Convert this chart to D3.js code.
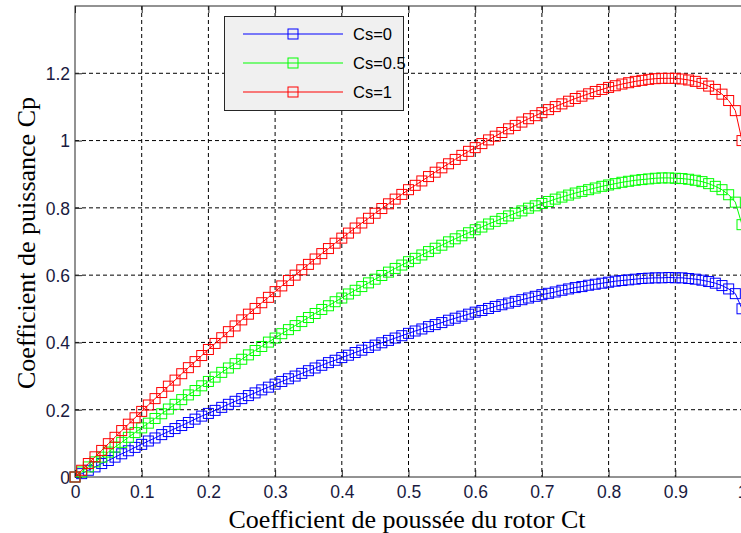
<!DOCTYPE html>
<html>
<head>
    <meta charset="utf-8">
    <title>Cp vs Ct</title>
    <script src="https://cdn.jsdelivr.net/npm/d3@7"></script>
    <style>
        body { margin: 0; background: #fff; }
        .tick-lbl { font-family: "Liberation Sans Narrow", "Arial Narrow", Arial, sans-serif; font-size: 17.5px; fill: #1a1a40; }
        .title { font-family: "Liberation Serif", "Times New Roman", serif; font-size: 26px; fill: #000; }
        .leg { font-family: Arial, "Liberation Sans", sans-serif; font-size: 16.5px; fill: #000; }
    </style>
</head>
<body>
<div id="chart"></div>
<script>
    // thrust coefficient (x values)
    var ct = [0, 0.01, 0.02, 0.03, 0.04, 0.05, 0.06, 0.07, 0.08, 0.09,
        0.10, 0.11, 0.12, 0.13, 0.14, 0.15, 0.16, 0.17, 0.18, 0.19,
        0.20, 0.21, 0.22, 0.23, 0.24, 0.25, 0.26, 0.27, 0.28, 0.29,
        0.30, 0.31, 0.32, 0.33, 0.34, 0.35, 0.36, 0.37, 0.38, 0.39,
        0.40, 0.41, 0.42, 0.43, 0.44, 0.45, 0.46, 0.47, 0.48, 0.49,
        0.50, 0.51, 0.52, 0.53, 0.54, 0.55, 0.56, 0.57, 0.58, 0.59,
        0.60, 0.61, 0.62, 0.63, 0.64, 0.65, 0.66, 0.67, 0.68, 0.69,
        0.70, 0.71, 0.72, 0.73, 0.74, 0.75, 0.76, 0.77, 0.78, 0.79,
        0.80, 0.81, 0.82, 0.83, 0.84, 0.85, 0.86, 0.87, 0.88, 0.89,
        0.90, 0.91, 0.92, 0.93, 0.94, 0.95, 0.96, 0.97, 0.98, 0.99,
        1.00];

    // power coefficient, Cs = 0
    var cpCs0 = [0, 0.010, 0.020, 0.030, 0.040, 0.049, 0.059, 0.069, 0.078, 0.088,
        0.097, 0.107, 0.116, 0.126, 0.135, 0.144, 0.153, 0.162, 0.172, 0.181,
        0.189, 0.198, 0.207, 0.216, 0.225, 0.233, 0.242, 0.250, 0.259, 0.267,
        0.276, 0.284, 0.292, 0.300, 0.308, 0.316, 0.324, 0.332, 0.340, 0.347,
        0.355, 0.362, 0.370, 0.377, 0.385, 0.392, 0.399, 0.406, 0.413, 0.420,
        0.427, 0.434, 0.440, 0.447, 0.453, 0.459, 0.466, 0.472, 0.478, 0.484,
        0.490, 0.495, 0.501, 0.507, 0.512, 0.517, 0.522, 0.527, 0.532, 0.537,
        0.542, 0.546, 0.550, 0.555, 0.559, 0.563, 0.566, 0.570, 0.573, 0.576,
        0.579, 0.582, 0.584, 0.586, 0.588, 0.590, 0.591, 0.592, 0.592, 0.593,
        0.592, 0.592, 0.590, 0.588, 0.585, 0.581, 0.576, 0.569, 0.559, 0.545,
        0.500];

    // Cs = 0.5
    var cpCs05 = [0, 0.015, 0.030, 0.045, 0.059, 0.074, 0.089, 0.103, 0.118, 0.132,
        0.146, 0.160, 0.174, 0.188, 0.202, 0.216, 0.230, 0.244, 0.257, 0.271,
        0.284, 0.297, 0.311, 0.324, 0.337, 0.350, 0.363, 0.376, 0.388, 0.401,
        0.413, 0.426, 0.438, 0.450, 0.462, 0.474, 0.486, 0.498, 0.509, 0.521,
        0.532, 0.544, 0.555, 0.566, 0.577, 0.588, 0.599, 0.609, 0.620, 0.630,
        0.640, 0.650, 0.660, 0.670, 0.680, 0.689, 0.699, 0.708, 0.717, 0.726,
        0.735, 0.743, 0.752, 0.760, 0.768, 0.776, 0.784, 0.791, 0.799, 0.806,
        0.813, 0.819, 0.826, 0.832, 0.838, 0.844, 0.849, 0.854, 0.859, 0.864,
        0.868, 0.872, 0.876, 0.879, 0.882, 0.884, 0.886, 0.888, 0.889, 0.889,
        0.888, 0.887, 0.885, 0.882, 0.878, 0.872, 0.864, 0.854, 0.839, 0.817,
        0.750];

    // Cs = 1
    var cpCs1 = [0, 0.020, 0.040, 0.060, 0.079, 0.099, 0.118, 0.138, 0.157, 0.176,
        0.195, 0.214, 0.233, 0.251, 0.270, 0.288, 0.307, 0.325, 0.343, 0.361,
        0.379, 0.397, 0.414, 0.432, 0.449, 0.467, 0.484, 0.501, 0.518, 0.534,
        0.551, 0.568, 0.584, 0.600, 0.616, 0.632, 0.648, 0.664, 0.679, 0.695,
        0.710, 0.725, 0.740, 0.755, 0.769, 0.784, 0.798, 0.812, 0.826, 0.840,
        0.854, 0.867, 0.880, 0.893, 0.906, 0.919, 0.931, 0.944, 0.956, 0.968,
        0.979, 0.991, 1.002, 1.013, 1.024, 1.035, 1.045, 1.055, 1.065, 1.074,
        1.083, 1.092, 1.101, 1.109, 1.117, 1.125, 1.132, 1.139, 1.146, 1.152,
        1.158, 1.163, 1.168, 1.172, 1.176, 1.179, 1.182, 1.184, 1.185, 1.185,
        1.185, 1.183, 1.180, 1.176, 1.170, 1.162, 1.152, 1.138, 1.119, 1.089,
        1.000];

    var seriesNames = ["Cs=0", "Cs=0.5", "Cs=1"];
    var seriesColors = ["#0000ff", "#00ff00", "#ff0000"];
    var xTicks = [0, 0.1, 0.2, 0.3, 0.4, 0.5, 0.6, 0.7, 0.8, 0.9, 1];
    var xTickLabels = ["0", "0.1", "0.2", "0.3", "0.4", "0.5", "0.6", "0.7", "0.8", "0.9", "1"];
    var yTicks = [0, 0.2, 0.4, 0.6, 0.8, 1, 1.2];
    var yTickLabels = ["0", "0.2", "0.4", "0.6", "0.8", "1", "1.2"];

    var W = 741, H = 533;
    var margin = {top: 6, left: 75, bottom: 56};
    var plotRight = 742; // right border falls just outside the picture
    var plotBottom = H - margin.bottom;

    var x = d3.scaleLinear().domain([0, 1]).range([margin.left, plotRight]);
    var y = d3.scaleLinear().domain([0, 1.4]).range([plotBottom, margin.top]);

    var svg = d3.select("#chart").append("svg")
        .attr("width", W)
        .attr("height", H);

    // grid
    svg.append("g")
        .selectAll("line")
        .data(xTicks.slice(1, -1))
        .enter().append("line")
        .attr("x1", function(d) { return x(d); })
        .attr("x2", function(d) { return x(d); })
        .attr("y1", margin.top)
        .attr("y2", plotBottom)
        .attr("stroke", "#000")
        .attr("stroke-dasharray", "4,3");

    svg.append("g")
        .selectAll("line")
        .data(yTicks.slice(1))
        .enter().append("line")
        .attr("x1", margin.left)
        .attr("x2", plotRight)
        .attr("y1", function(d) { return y(d); })
        .attr("y2", function(d) { return y(d); })
        .attr("stroke", "#000")
        .attr("stroke-dasharray", "4,3");

    // axes (ticks inward, MATLAB style)
    var xAxisB = d3.axisBottom(x).tickValues(xTicks).tickSizeInner(-7).tickSizeOuter(0)
        .tickFormat(function(d, i) { return xTickLabels[i]; });
    var gx = svg.append("g")
        .attr("transform", "translate(0," + plotBottom + ")")
        .call(xAxisB);
    gx.selectAll("text").attr("class", "tick-lbl").attr("y", 9).attr("dy", "0.71em");

    var xAxisT = d3.axisTop(x).tickValues(xTicks).tickSizeInner(-7).tickSizeOuter(0).tickFormat("");
    svg.append("g")
        .attr("transform", "translate(0," + margin.top + ")")
        .call(xAxisT);

    var yAxisL = d3.axisLeft(y).tickValues(yTicks).tickSizeInner(-7).tickSizeOuter(0)
        .tickFormat(function(d, i) { return yTickLabels[i]; });
    var gy = svg.append("g")
        .attr("transform", "translate(" + margin.left + ",0)")
        .call(yAxisL);
    gy.selectAll("text").attr("class", "tick-lbl").attr("x", -5).attr("dy", "0.36em");

    svg.selectAll(".domain").remove();
    svg.selectAll(".tick line").attr("stroke", "#262626");

    // box
    svg.append("rect")
        .attr("x", margin.left)
        .attr("y", margin.top)
        .attr("width", plotRight - margin.left)
        .attr("height", plotBottom - margin.top)
        .attr("fill", "none")
        .attr("stroke", "#262626")
        .attr("stroke-width", 1);

    // series
    var allSeries = [cpCs0, cpCs05, cpCs1];
    var line = d3.line()
        .x(function(d) { return x(d[0]); })
        .y(function(d) { return y(d[1]); });

    allSeries.forEach(function(vals, si) {
        var pts = ct.map(function(c, i) { return [c, vals[i]]; });
        svg.append("path")
            .datum(pts)
            .attr("fill", "none")
            .attr("stroke", seriesColors[si])
            .attr("stroke-width", 1)
            .attr("d", line);
        svg.append("g")
            .selectAll("rect")
            .data(pts)
            .enter().append("rect")
            .attr("x", function(d) { return x(d[0]) - 5; })
            .attr("y", function(d) { return y(d[1]) - 5; })
            .attr("width", 10)
            .attr("height", 10)
            .attr("fill", "none")
            .attr("stroke", seriesColors[si])
            .attr("stroke-width", 1);
    });

    // legend
    var leg = svg.append("g");
    leg.append("rect")
        .attr("x", 224.5).attr("y", 16.5)
        .attr("width", 179).attr("height", 94)
        .attr("fill", "#f0f0f0")
        .attr("stroke", "#262626");
    seriesNames.forEach(function(name, i) {
        var ly = 34 + i * 29;
        leg.append("line")
            .attr("x1", 243).attr("x2", 343)
            .attr("y1", ly).attr("y2", ly)
            .attr("stroke", seriesColors[i]);
        leg.append("rect")
            .attr("x", 288).attr("y", ly - 5)
            .attr("width", 10).attr("height", 10)
            .attr("fill", "none")
            .attr("stroke", seriesColors[i]);
        leg.append("text")
            .attr("class", "leg")
            .attr("x", 353).attr("y", ly + 6)
            .text(name);
    });

    // axis titles
    svg.append("text")
        .attr("class", "title")
        .attr("x", 407)
        .attr("y", 528)
        .attr("text-anchor", "middle")
        .text("Coefficient de poussée du rotor Ct");

    svg.append("text")
        .attr("class", "title")
        .attr("transform", "translate(35,243) rotate(-90)")
        .attr("text-anchor", "middle")
        .text("Coefficient de puissance Cp");
</script>
</body>
</html>
